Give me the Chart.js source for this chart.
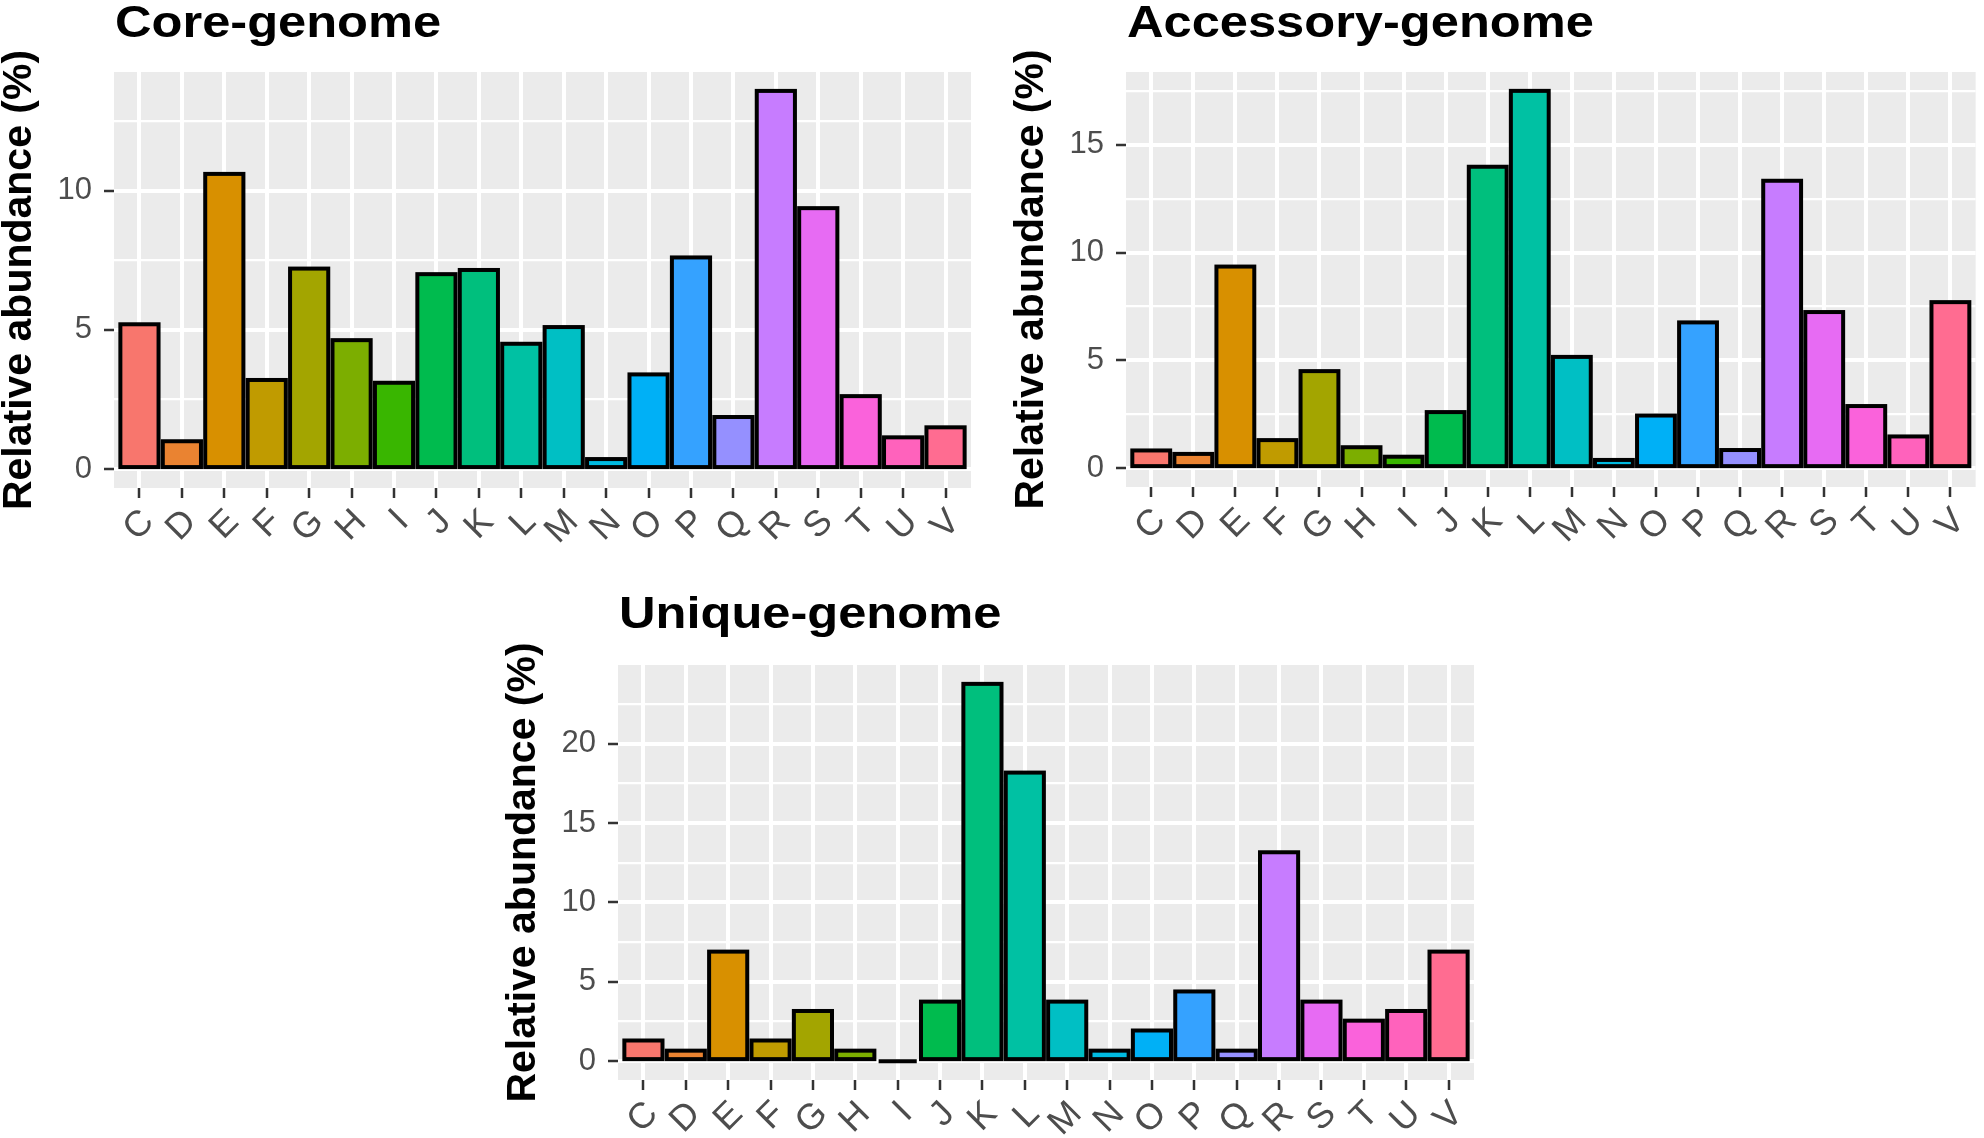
<!DOCTYPE html>
<html>
<head>
<meta charset="utf-8">
<script src="https://cdn.jsdelivr.net/npm/chart.js@4.4.1/dist/chart.umd.min.js"></script>
<style>
  html, body { margin: 0; padding: 0; background: #ffffff; }
  body { width: 1984px; height: 1138px; position: relative; overflow: hidden; }
  canvas { position: absolute; }
  #coreChart { left: 0px; top: 0px; }
  #accChart { left: 994px; top: 0px; }
  #uniqueChart { left: 480px; top: 570px; }
</style>
</head>
<body>
<canvas id="coreChart" width="990" height="565"></canvas>
<canvas id="accChart" width="990" height="565"></canvas>
<canvas id="uniqueChart" width="1010" height="568"></canvas>
<script>
// COG categories on the x axis
const categories = ['C','D','E','F','G','H','I','J','K','L','M','N','O','P','Q','R','S','T','U','V'];

// Relative abundance (%) per category
const coreValues = [5.2, 1.0, 10.6, 3.2, 7.2, 4.63, 3.1, 7.0, 7.15, 4.5, 5.1, 0.36, 3.4, 7.6, 1.87, 13.58, 9.37, 2.62, 1.14, 1.5];
const accessoryValues = [0.82, 0.66, 9.35, 1.3, 4.5, 0.97, 0.53, 2.6, 13.98, 17.5, 5.16, 0.38, 2.44, 6.76, 0.84, 13.33, 7.24, 2.88, 1.47, 7.7];
const uniqueValues = [1.3, 0.66, 6.9, 1.3, 3.16, 0.66, 0, 3.75, 23.77, 18.18, 3.75, 0.66, 1.93, 4.39, 0.66, 13.16, 3.75, 2.55, 3.16, 6.9];

// y axis: labelled breaks every 5, minor grid every 2.5
const majorStep = 5;
const minorStep = 2.5;

// ggplot default hue palette, 20 levels
const hueColors = ['#F8766D','#EA8331','#D89000','#C09B00','#A3A500','#7CAE00','#39B600','#00BB4E','#00BF7D','#00C1A3',
                   '#00BFC4','#00BAE0','#00B0F6','#35A2FF','#9590FF','#C77CFF','#E76BF3','#FA62DB','#FF62BC','#FF6C91'];

// grey panel, ggplot-style outlines (stroke centred on the bar edge), titles
const ggDecor = {
  id: 'ggDecor',
  beforeDraw(chart, args, opts) {
    const { ctx, chartArea: a } = chart;
    ctx.save();
    ctx.fillStyle = '#EBEBEB';
    ctx.fillRect(a.left, a.top, a.right - a.left, a.bottom - a.top);
    ctx.restore();
  },
  afterDatasetsDraw(chart) {
    const { ctx } = chart;
    const meta = chart.getDatasetMeta(0);
    ctx.save();
    ctx.strokeStyle = '#000000';
    ctx.lineWidth = 4;
    ctx.lineJoin = 'miter';
    meta.data.forEach((bar) => {
      const p = bar.getProps(['x', 'y', 'base', 'width'], true);
      ctx.strokeRect(p.x - p.width / 2, Math.min(p.y, p.base), p.width, Math.abs(p.base - p.y));
    });
    ctx.restore();
  },
  afterDraw(chart, args, opts) {
    const { ctx, chartArea: a } = chart;
    ctx.save();
    ctx.fillStyle = '#000000';
    // panel title, slightly wide like the original
    ctx.font = 'bold 44px "Liberation Sans", Arial, sans-serif';
    ctx.textAlign = 'left';
    ctx.textBaseline = 'alphabetic';
    ctx.translate(a.left + 1, opts.titleBaseline);
    ctx.scale(1.15, 1);
    ctx.fillText(opts.title, 0, 0);
    ctx.restore();

    // y axis title
    ctx.save();
    ctx.fillStyle = '#000000';
    ctx.font = 'bold 41px "Liberation Sans", Arial, sans-serif';
    ctx.textAlign = 'center';
    ctx.textBaseline = 'alphabetic';
    ctx.translate(a.left - 83, (a.top + a.bottom) / 2);
    ctx.rotate(-Math.PI / 2);
    ctx.fillText('Relative abundance (%)', 0, 0);
    ctx.restore();
  }
};

function makeChart(id, title, values, box) {
  const top = Math.max(...values);
  const expand = top * 0.05;
  const ctx = document.getElementById(id);
  return new Chart(ctx, {
    type: 'bar',
    data: {
      datasets: [{
        data: values.map((v, i) => ({ x: i, y: v })),
        backgroundColor: hueColors,
        borderWidth: 0,
        barPercentage: 0.9,
        categoryPercentage: 1.0
      }]
    },
    options: {
      responsive: false,
      animation: false,
      devicePixelRatio: 1,
      layout: { padding: { left: 0, top: box.top, right: box.right, bottom: 0 } },
      plugins: {
        legend: { display: false },
        tooltip: { enabled: false },
        ggDecor: { title: title, titleBaseline: box.titleBaseline }
      },
      scales: {
        x: {
          type: 'linear',
          offset: false,
          min: -0.6,
          max: categories.length - 0.4,
          afterBuildTicks: (scale) => {
            scale.ticks = categories.map((c, i) => ({ value: i }));
          },
          afterFit: (scale) => { scale.height = box.xHeight; },
          border: { display: false },
          grid: {
            offset: false,
            color: '#FFFFFF',
            lineWidth: 4,
            drawTicks: true,
            tickLength: 10,
            tickWidth: 2.5,
            tickColor: '#333333'
          },
          ticks: {
            autoSkip: false,
            maxRotation: 45,
            minRotation: 45,
            padding: 3,
            labelOffset: 9,
            color: '#4D4D4D',
            font: { family: '"Liberation Sans", Arial, sans-serif', size: 36 },
            callback: (v) => categories[v]
          }
        },
        y: {
          min: -expand,
          max: top + expand,
          afterBuildTicks: (scale) => {
            const t = [];
            for (let v = 0; v <= top + expand; v += minorStep) t.push({ value: v });
            scale.ticks = t;
          },
          afterFit: (scale) => { scale.width = box.left; },
          border: { display: false },
          grid: {
            color: '#FFFFFF',
            lineWidth: (c) => (c.tick && c.tick.value % majorStep === 0 ? 4 : 2.2),
            drawTicks: true,
            tickLength: 10,
            tickWidth: 2.5,
            tickColor: (c) => (c.tick && c.tick.value % majorStep === 0 ? '#333333' : 'rgba(0,0,0,0)')
          },
          ticks: {
            padding: 12,
            color: '#4D4D4D',
            font: { family: '"Liberation Sans", Arial, sans-serif', size: 31 },
            callback: (v) => (v % majorStep === 0 ? String(v) : '')
          }
        }
      }
    },
    plugins: [ggDecor]
  });
}

makeChart('coreChart', 'Core-genome', coreValues,
  { left: 114, top: 72, right: 19, xHeight: 77, titleBaseline: 37 });
makeChart('accChart', 'Accessory-genome', accessoryValues,
  { left: 132, top: 72, right: 2, xHeight: 78, titleBaseline: 37 });
makeChart('uniqueChart', 'Unique-genome', uniqueValues,
  { left: 138, top: 95, right: 16, xHeight: 58, titleBaseline: 58 });
</script>
</body>
</html>
